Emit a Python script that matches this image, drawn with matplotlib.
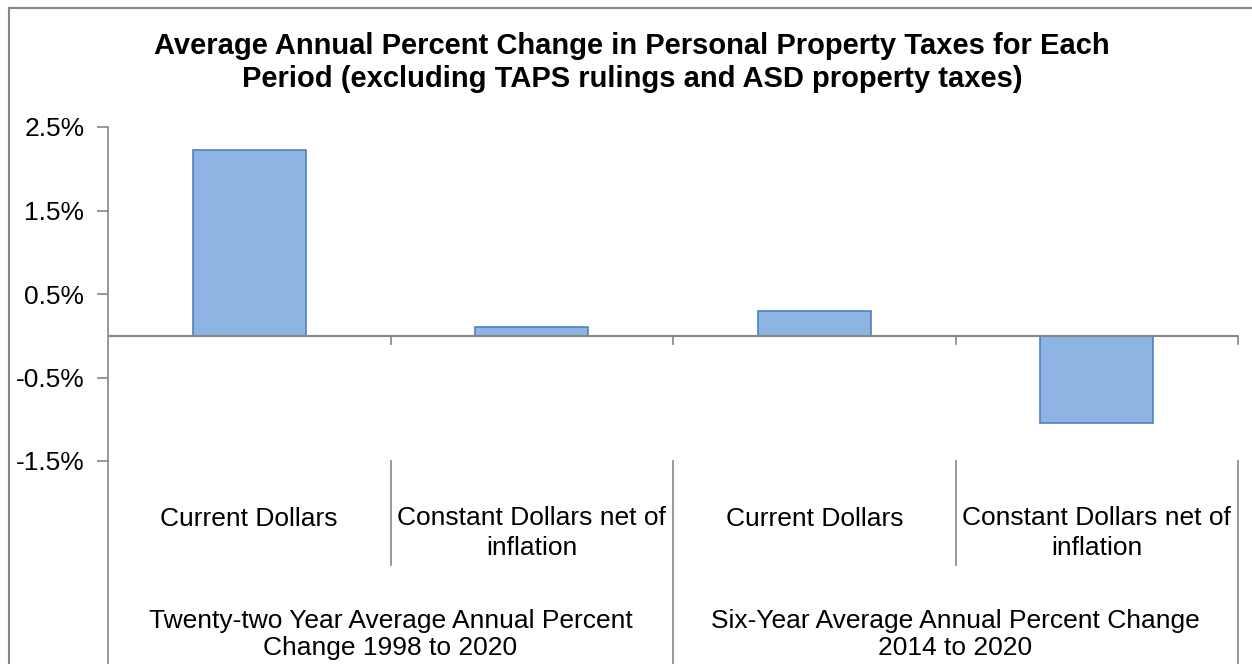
import numpy as np
import matplotlib.pyplot as plt
from matplotlib.lines import Line2D
import matplotlib.transforms as mtransforms

plt.rcParams['font.family'] = ['Liberation Sans', 'DejaVu Sans']

title = ("Average Annual Percent Change in Personal Property Taxes for Each\n"
         "Period (excluding TAPS rulings and ASD property taxes)")
categories = ["Current Dollars", "Constant Dollars net of\ninflation",
              "Current Dollars", "Constant Dollars net of\ninflation"]
groups = ["Twenty-two Year Average Annual Percent\nChange 1998 to 2020",
          "Six-Year Average Annual Percent Change\n2014 to 2020"]
values = [2.22, 0.10, 0.30, -1.04]
yticks = [-1.5, -0.5, 0.5, 1.5, 2.5]

W, H = 1252, 664
fig = plt.figure(figsize=(W / 100, H / 100), dpi=100)
ax = fig.add_axes([108 / W, 1 - 461 / H, (1238 - 108) / W, (461 - 127) / H])

grey = '#868686'
x = np.arange(len(values))
ax.bar(x, values, width=0.4, color='#8EB4E3', edgecolor='#4F81BD', linewidth=1.2, zorder=2)
ax.set_xlim(-0.5, len(values) - 0.5)
ax.set_ylim(-1.5, 2.5)
ax.set_yticks(yticks)
ax.set_yticklabels(['%.1f%%' % v for v in yticks], fontsize=19)
ax.tick_params(axis='y', direction='out', length=8, color=grey, width=1.2, pad=9)
ax.set_xticks([])
for s in ['top', 'right', 'bottom']:
    ax.spines[s].set_visible(False)
ax.spines['left'].set_color(grey)
ax.spines['left'].set_linewidth(1.2)
ax.axhline(0, color=grey, lw=1.5, zorder=3)

trans = mtransforms.blended_transform_factory(ax.transData, ax.transAxes)
zero_ax = 1.5 / 4.0
# small ticks on zero line
for b in np.arange(0.5, len(values), 1.0):
    ax.add_line(Line2D([b, b], [zero_ax, zero_ax - 0.025], transform=trans,
                       color=grey, lw=1.2, clip_on=False))

# category label separators
for b in [0.5, 2.5]:
    ax.add_line(Line2D([b, b], [0, -0.312], transform=trans, color=grey, lw=1.2, clip_on=False))
for b in [-0.5, 1.5, 3.5]:
    ax.add_line(Line2D([b, b], [0, -0.7], transform=trans, color=grey, lw=1.2, clip_on=False))

for i, c in enumerate(categories):
    yy = -0.216 if '\n' in c else -0.173
    ax.text(i, yy, c, transform=trans, ha='center', va='center', fontsize=19,
            linespacing=1.34)
for g, lab in enumerate(groups):
    ax.text(2 * g + 0.5, -0.52, lab, transform=trans, ha='center', va='center',
            fontsize=19, linespacing=1.19)

fig.text(632 / W, 1 - 62.5 / H, title, ha='center', va='center',
         fontsize=21, fontweight='bold', linespacing=1.24)

# outer chart border (top and left visible)
fig.add_artist(Line2D([9 / W, 9 / W], [0, 1 - 8 / H], transform=fig.transFigure, color=grey, lw=1.5))
fig.add_artist(Line2D([9 / W, 1], [1 - 8 / H, 1 - 8 / H], transform=fig.transFigure, color=grey, lw=1.5))

fig.savefig('out.png', dpi=100)
